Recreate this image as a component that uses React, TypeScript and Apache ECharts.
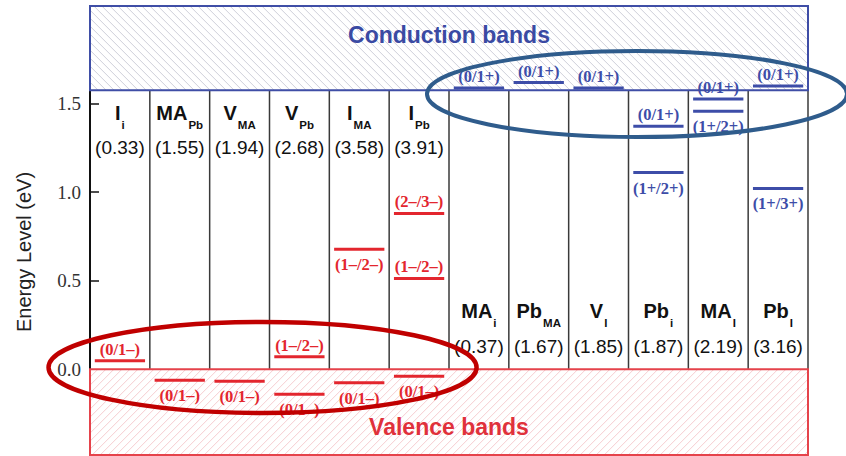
import React, { useEffect, useRef } from 'react';
import * as echarts from 'echarts';

// ---- data ----
const defectNames = ['I', 'MA', 'V', 'V', 'I', 'I', 'MA', 'Pb', 'V', 'Pb', 'MA', 'Pb'];
const defectSubscripts = ['i', 'Pb', 'MA', 'Pb', 'MA', 'Pb', 'i', 'MA', 'I', 'i', 'I', 'I'];
const formationEnergies = [0.33, 1.55, 1.94, 2.68, 3.58, 3.91, 0.37, 1.67, 1.85, 1.87, 2.19, 3.16];

const vbm = 0.0;
const cbm = 1.575;
const energyMin = -0.49;
const energyMax = 2.05;
const valenceBottom = -0.485;
const yTickValues = [0, 0.5, 1.0, 1.5];
const bandNames = ['Conduction bands', 'Valence bands'];
const bandLow = [cbm, valenceBottom];
const bandHigh = [energyMax, vbm];

// acceptor (red) transition levels
const acceptorCol = [0, 1, 2, 3, 3, 4, 4, 5, 5, 5];
const acceptorE = [0.047, -0.062, -0.068, 0.07, -0.141, 0.677, -0.077, 0.879, 0.512, -0.04];
const acceptorLabel = ['(0/1–)', '(0/1–)', '(0/1–)', '(1–/2–)', '(0/1–)', '(1–/2–)', '(0/1–)', '(2–/3–)', '(1–/2–)', '(0/1–)'];
const acceptorLabelAbove = [true, false, false, true, false, false, false, true, true, false];

// donor (blue) transition levels
const donorCol = [6, 7, 8, 9, 9, 10, 10, 11, 11];
const donorE = [1.587, 1.618, 1.587, 1.371, 1.11, 1.525, 1.456, 1.599, 1.02];
const donorLabel = ['(0/1+)', '(0/1+)', '(0/1+)', '(0/1+)', '(1+/2+)', '(0/1+)', '(1+/2+)', '(0/1+)', '(1+/3+)'];
const donorLabelAbove = [true, true, true, true, false, true, false, true, false];

// highlight ellipses: centre (column units, eV), radii (column units, eV)
const ellipseCx = [2.884, 9.142];
const ellipseCy = [0.01, 1.553];
const ellipseRx = [3.577, 3.51];
const ellipseRy = [0.257, 0.243];

// ---- styles ----
const SANS = '"Liberation Sans", Arial, Helvetica, sans-serif';
const SERIF = '"Liberation Serif", "Times New Roman", serif';
const RED = '#e3262e';
const BLUE = '#3d4da8';
const ellipseColors = ['#c00000', '#2f5c8c'];
const ellipseWidths = [4.5, 4];

let measureCtx: CanvasRenderingContext2D | null = null;
function measure(text: string, font: string): number {
  if (!measureCtx) measureCtx = document.createElement('canvas').getContext('2d');
  if (!measureCtx) return text.length * 10;
  measureCtx.font = font;
  return measureCtx.measureText(text).width;
}

function txt(text: string, x: number, y: number, font: string, fill: string, align: string) {
  return {
    type: 'text',
    style: {
      text, x, y, font, fill,
      align, verticalAlign: 'middle',
      textAlign: align, textVerticalAlign: 'middle',
    },
  };
}

function hatch(x0: number, y0: number, w: number, h: number, step: number, back: boolean, color: string) {
  const out: any[] = [];
  if (back) {
    for (let k = x0 - (y0 + h); k <= x0 + w - y0; k += step) {
      const ya = Math.max(y0, x0 - k);
      const yb = Math.min(y0 + h, x0 + w - k);
      if (yb > ya) out.push({ type: 'line', shape: { x1: ya + k, y1: ya, x2: yb + k, y2: yb }, style: { stroke: color, lineWidth: 1 } });
    }
  } else {
    for (let k = x0 + y0; k <= x0 + w + y0 + h; k += step) {
      const ya = Math.max(y0, k - x0 - w);
      const yb = Math.min(y0 + h, k - x0);
      if (yb > ya) out.push({ type: 'line', shape: { x1: k - ya, y1: ya, x2: k - yb, y2: yb }, style: { stroke: color, lineWidth: 1 } });
    }
  }
  return out;
}

function levelRenderer(color: string, labels: string[], above: boolean[]) {
  return (params: any, api: any) => {
    const col = api.value(0);
    const e = api.value(1);
    const idx = params.dataIndex;
    const a = api.coord([col + 0.08, e]);
    const b = api.coord([col + 0.92, e]);
    const cx = (a[0] + b[0]) / 2;
    const ly = above[idx] ? a[1] - 11.5 : a[1] + 15.5;
    return {
      type: 'group',
      children: [
        { type: 'line', shape: { x1: a[0], y1: a[1], x2: b[0], y2: b[1] }, style: { stroke: color, lineWidth: 3 } },
        txt(labels[idx], cx, ly, `bold 16.5px ${SERIF}`, color, 'center'),
      ],
    };
  };
}

const nCols = defectNames.length;

const option: any = {
  animation: false,
  backgroundColor: '#ffffff',
  grid: { left: 90, right: 38, top: 6, bottom: 0, containLabel: false },
  xAxis: { type: 'value', min: 0, max: nCols, show: false },
  yAxis: {
    type: 'value',
    min: energyMin,
    max: energyMax,
    axisLine: { show: true, lineStyle: { color: '#111', width: 2 } },
    axisTick: { show: true, inside: true, length: 9, customValues: [0.5, 1.0, 1.5], lineStyle: { color: '#111', width: 1.5 } },
    axisLabel: {
      customValues: yTickValues,
      formatter: (v: number) => v.toFixed(1),
      fontFamily: SERIF,
      fontSize: 19,
      color: '#333',
      margin: 9,
    },
    splitLine: { show: false },
    name: 'Energy Level (eV)',
    nameLocation: 'middle',
    nameGap: 56,
    nameTextStyle: { fontFamily: SANS, fontSize: 20, color: '#222', padding: [0, 42, 0, 0] },
  },
  series: [
    {
      // column dividers
      type: 'custom',
      z: 2,
      clip: false,
      silent: true,
      data: defectNames.map((_, i) => [i + 1, cbm]),
      renderItem: (params: any, api: any) => {
        const x = api.value(0);
        const p0 = api.coord([x, vbm]);
        const p1 = api.coord([x, cbm]);
        return { type: 'line', shape: { x1: p0[0], y1: p0[1], x2: p1[0], y2: p1[1] }, style: { stroke: '#3a3a3a', lineWidth: 1.5 } };
      },
    },
    {
      // band boxes
      type: 'custom',
      z: 3,
      clip: false,
      silent: true,
      data: bandLow.map((lo, i) => [lo, bandHigh[i]]),
      renderItem: (params: any, api: any) => {
        const idx = params.dataIndex;
        const lo = api.value(0);
        const hi = api.value(1);
        const pTop = api.coord([0, hi]);
        const pBot = api.coord([nCols, lo]);
        const x = pTop[0], y = pTop[1], w = pBot[0] - pTop[0], h = pBot[1] - pTop[1];
        const isCond = idx === 0;
        const border = isCond ? '#3f4ea6' : '#e5434b';
        const hatchColor = isCond ? '#cfd0da' : '#f6cdd0';
        const textColor = isCond ? '#3a4aa3' : '#e0313b';
        const ty = isCond ? y + 29 : y + h - 28;
        return {
          type: 'group',
          children: [
            { type: 'rect', shape: { x, y, width: w, height: h }, style: { fill: '#ffffff' } },
            ...hatch(x, y, w, h, 8, isCond, hatchColor),
            { type: 'rect', shape: { x, y, width: w, height: h }, style: { fill: 'none', stroke: border, lineWidth: 2 } },
            txt(bandNames[idx], x + w / 2, ty, `bold 23px ${SANS}`, textColor, 'center'),
          ],
        };
      },
    },
    {
      type: 'custom',
      z: 4,
      clip: false,
      silent: true,
      data: acceptorCol.map((c, i) => [c, acceptorE[i]]),
      renderItem: levelRenderer(RED, acceptorLabel, acceptorLabelAbove),
    },
    {
      type: 'custom',
      z: 4,
      clip: false,
      silent: true,
      data: donorCol.map((c, i) => [c, donorE[i]]),
      renderItem: levelRenderer(BLUE, donorLabel, donorLabelAbove),
    },
    {
      // defect headers
      type: 'custom',
      z: 4,
      clip: false,
      silent: true,
      data: formationEnergies.map((v, i) => [i, v]),
      renderItem: (params: any, api: any) => {
        const i = params.dataIndex;
        const col = api.value(0);
        const val = api.value(1);
        const cx = api.coord([col + 0.5, 0])[0];
        const yC = api.coord([0, cbm])[1];
        const yV = api.coord([0, vbm])[1];
        const top = i < 6;
        const nameY = top ? yC + 23 : yV - 58;
        const valY = top ? yC + 57 : yV - 23;
        const mainFont = `bold 20px ${SANS}`;
        const subFont = `bold 11.5px ${SANS}`;
        const name = defectNames[i];
        const sub = defectSubscripts[i];
        const mw = measure(name, mainFont);
        const sw = measure(sub, subFont);
        const x0 = cx - (mw + sw + 1) / 2;
        return {
          type: 'group',
          children: [
            txt(name, x0, nameY, mainFont, '#111', 'left'),
            txt(sub, x0 + mw + 1, nameY + 12, subFont, '#111', 'left'),
            txt('(' + val.toFixed(2) + ')', cx, valY, `19px ${SANS}`, '#111', 'center'),
          ],
        };
      },
    },
    {
      // highlight ellipses
      type: 'custom',
      z: 6,
      clip: false,
      silent: true,
      data: ellipseCx.map((cx, i) => [cx, ellipseCy[i], ellipseRx[i], ellipseRy[i]]),
      renderItem: (params: any, api: any) => {
        const i = params.dataIndex;
        const c = api.coord([api.value(0), api.value(1)]);
        const s = api.size([api.value(2), api.value(3)]);
        return {
          type: 'ellipse',
          shape: { cx: c[0], cy: c[1], rx: s[0], ry: s[1] },
          style: { fill: 'none', stroke: ellipseColors[i], lineWidth: ellipseWidths[i] },
        };
      },
    },
  ],
};

export default function App() {
  const ref = useRef<HTMLDivElement>(null);
  useEffect(() => {
    if (!ref.current) return;
    const chart = echarts.init(ref.current, null, { renderer: 'svg' });
    chart.setOption(option);
    return () => chart.dispose();
  }, []);
  return (
    <div
      ref={ref}
      style={{ position: 'absolute', left: 0, top: 0, width: 846, height: 456, background: '#fff' }}
    />
  );
}
